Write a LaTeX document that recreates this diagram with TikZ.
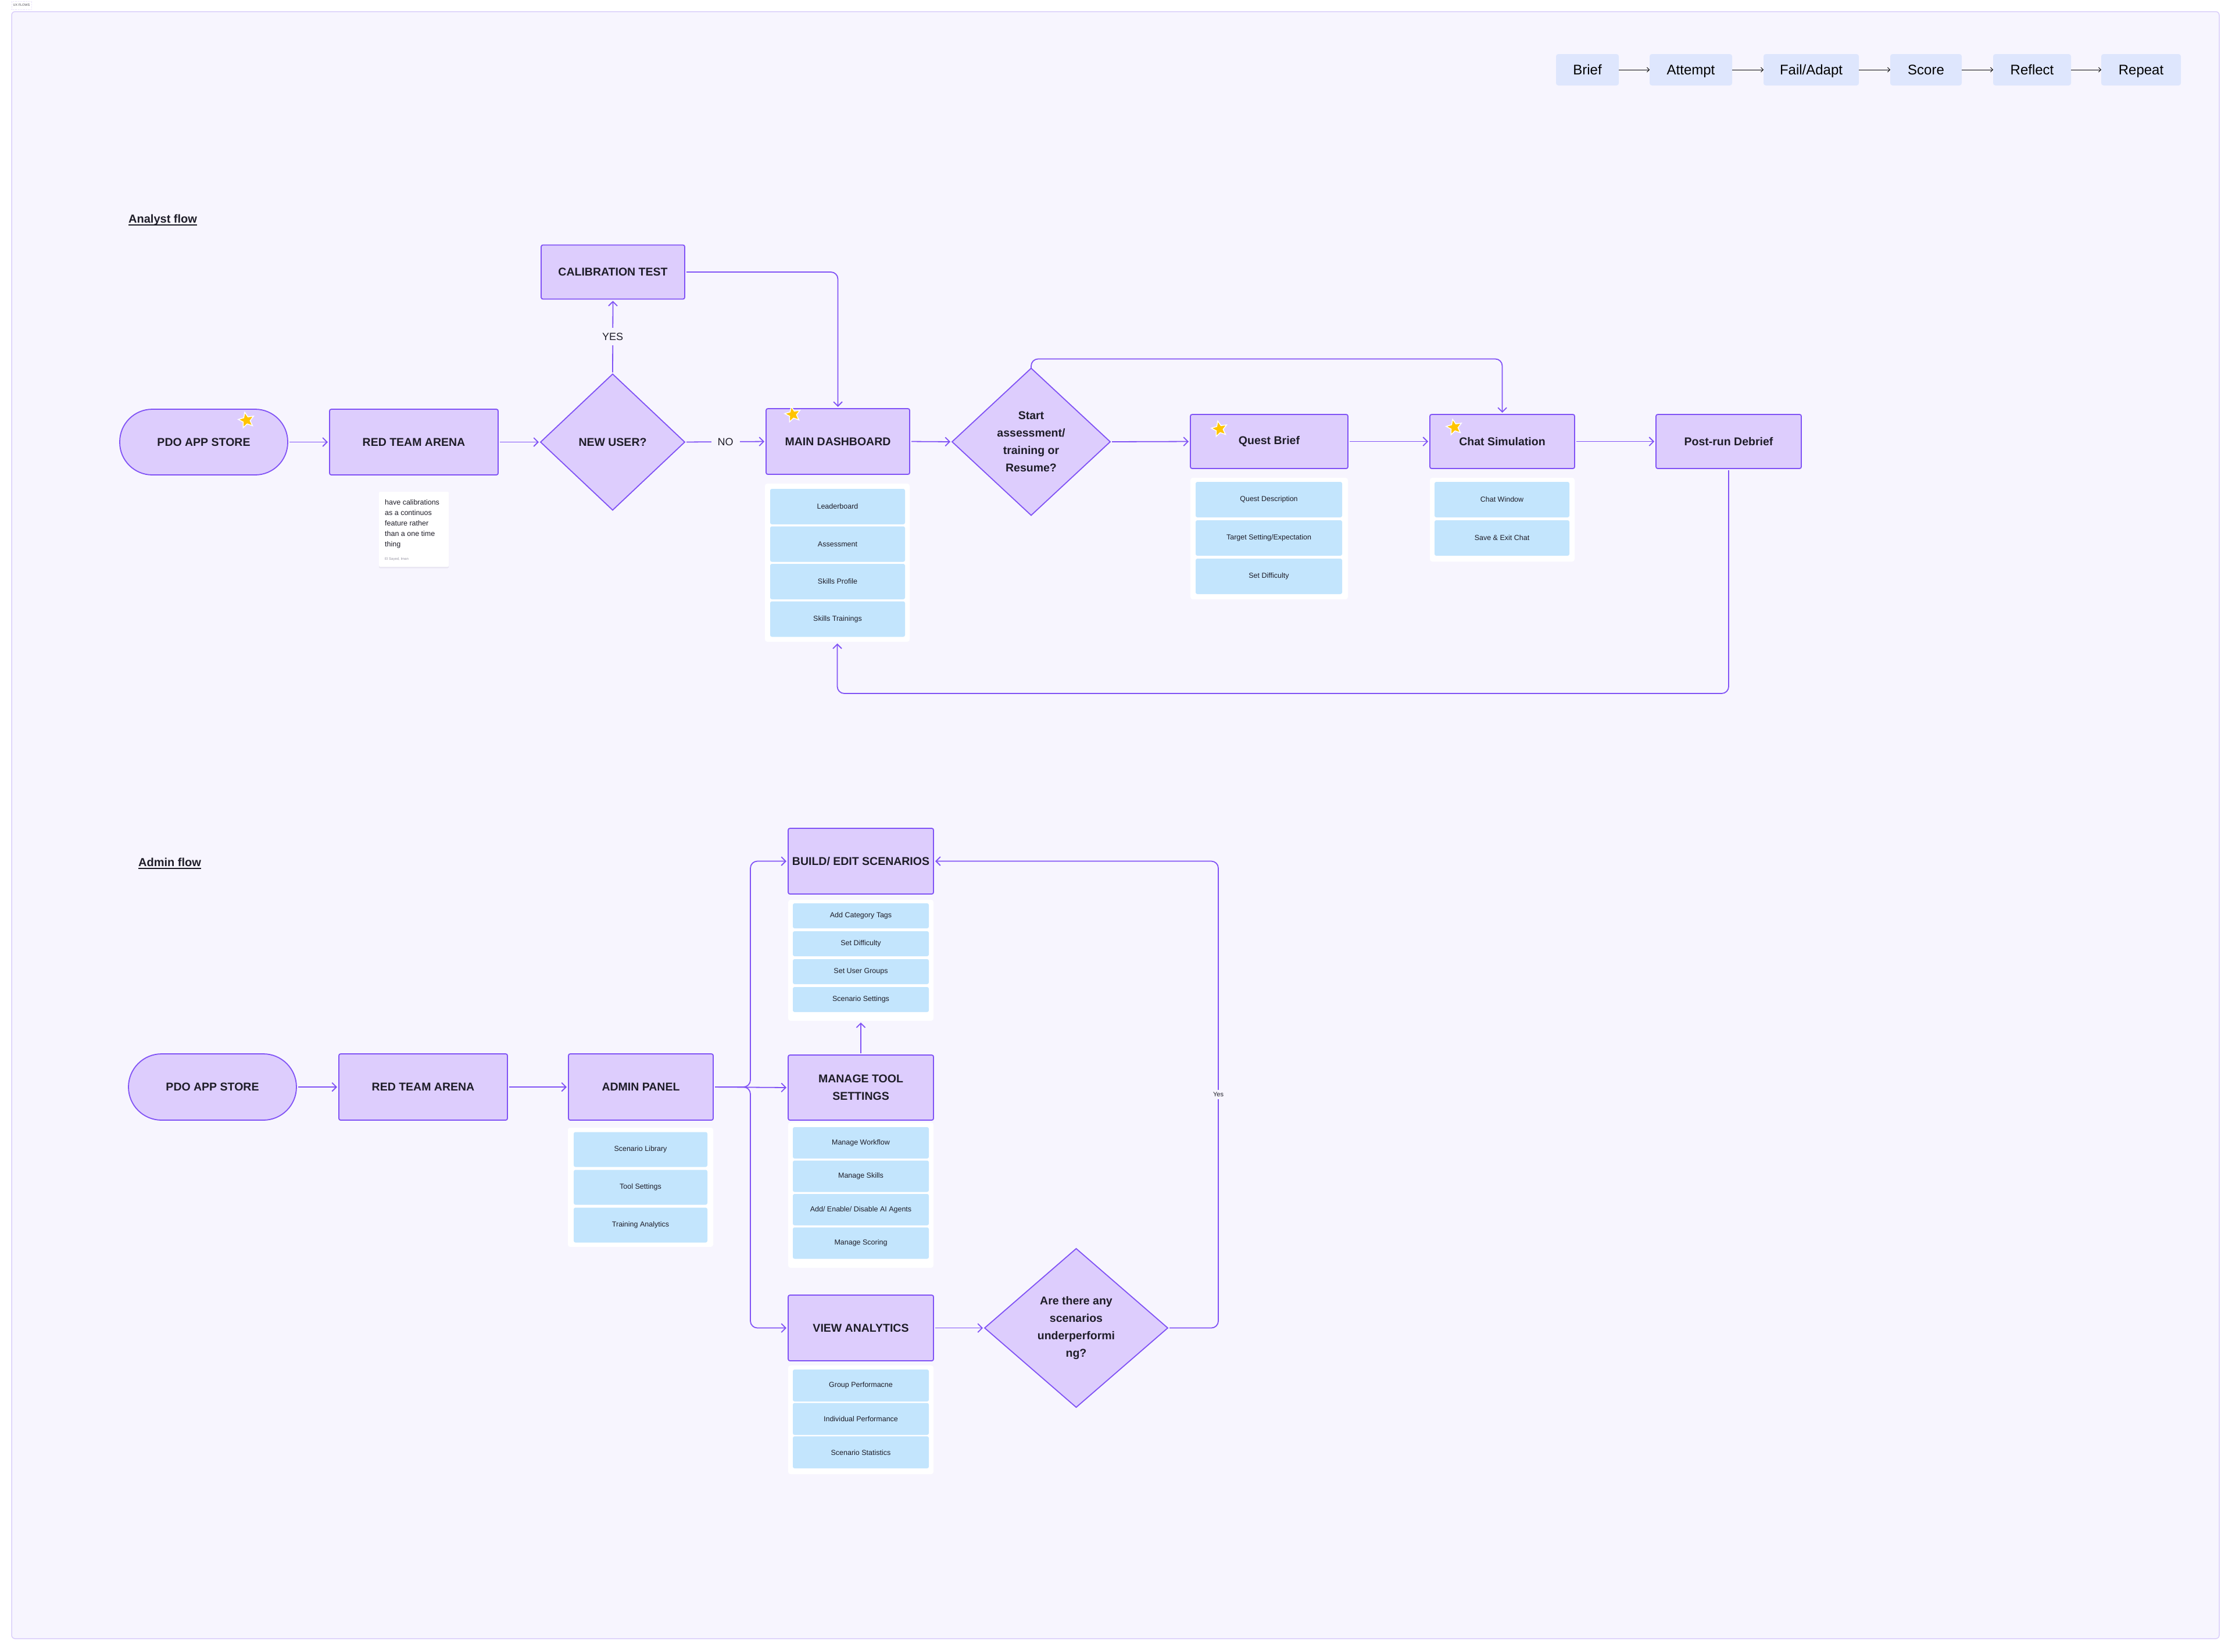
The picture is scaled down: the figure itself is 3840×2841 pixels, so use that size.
\documentclass[tikz,border=0pt]{standalone}
\usepackage{fontspec}
\setmainfont{Liberation Sans}
\usetikzlibrary{shapes.geometric,arrows.meta,calc}
\definecolor{bgc}{RGB}{247,245,254}
\definecolor{lav}{RGB}{221,205,253}
\definecolor{vio}{RGB}{128,82,245}
\definecolor{itemblue}{RGB}{195,229,253}
\definecolor{legbox}{RGB}{222,230,253}
\definecolor{ink}{RGB}{30,29,40}
\definecolor{framec}{RGB}{218,206,250}
\definecolor{starY}{RGB}{255,196,0}
\definecolor{shadowc}{RGB}{233,230,242}
\definecolor{authorc}{RGB}{150,148,162}
\tikzset{
  procbox/.style={draw=vio, fill=lav, line width=1.8pt, rounded corners=3pt, inner sep=0pt, outer sep=0pt, text=ink, font=\bfseries\fontsize{19.5}{30}\selectfont, align=center},
  termbox/.style={procbox, rounded corners=56pt},
  decbox/.style={diamond, draw=vio, fill=lav, line width=1.8pt, inner sep=0pt, outer sep=0pt, text=ink, font=\bfseries\fontsize{19.5}{30}\selectfont, align=center},
  subpanel/.style={fill=white, rounded corners=4pt, inner sep=0pt, outer sep=0pt},
  subitem/.style={fill=itemblue, rounded corners=3pt, inner sep=0pt, outer sep=0pt, text=ink, font=\fontsize{12.5}{14}\selectfont},
  legnode/.style={fill=legbox, rounded corners=4pt, inner sep=0pt, outer sep=0pt, text=black, font=\fontsize{24}{28}\selectfont, minimum height=54pt, text height=17pt, text depth=0pt},
  flowline/.style={draw=vio, line width=1.8pt, -{Straight Barb[length=7.5pt,width=15pt]}, shorten <=3pt, shorten >=3pt, rounded corners=12pt},
  legline/.style={draw=black, line width=0.9pt, -{Straight Barb[length=4pt,width=8pt]}},
  edgelbl/.style={fill=bgc, text=ink, font=\fontsize{18}{20}\selectfont, inner sep=9pt},
  starmark/.style={star, star points=5, star point ratio=2.2, fill=starY, draw=white, line width=1.5pt, minimum size=28pt, inner sep=0pt, rotate=12},
  flowtitle/.style={text=ink, font=\bfseries\fontsize{20}{24}\selectfont, inner sep=0pt},
}
\begin{document}
\begin{tikzpicture}[x=1pt,y=-1pt]
\path[use as bounding box] (0,0) rectangle (3840,2841);
\fill[white] (0,0) rectangle (3840,2841);
\draw[framec, fill=bgc, line width=1.5pt, rounded corners=6pt] (20,20) rectangle (3818,2819);
\node[draw=framec, dotted, line width=0.8pt, fill=white, inner sep=0pt, minimum width=34pt, minimum height=14pt, text=ink!80, font=\fontsize{5.5}{6}\selectfont] (uxlabel) at (37,9) {UX FLOWS};

% ---------- legend ----------
\node[legnode, minimum width=108pt] (lgBrief) at (2731,120) {Brief};
\node[legnode, minimum width=142pt] (lgAttempt) at (2909,120) {Attempt};
\node[legnode, minimum width=164pt] (lgFail) at (3116,120) {Fail/Adapt};
\node[legnode, minimum width=123pt] (lgScore) at (3313.5,120) {Score};
\node[legnode, minimum width=134pt] (lgReflect) at (3496,120) {Reflect};
\node[legnode, minimum width=137pt] (lgRepeat) at (3683.5,120) {Repeat};
\draw[legline] (lgBrief.east) -- (lgAttempt.west);
\draw[legline] (lgAttempt.east) -- (lgFail.west);
\draw[legline] (lgFail.east) -- (lgScore.west);
\draw[legline] (lgScore.east) -- (lgReflect.west);
\draw[legline] (lgReflect.east) -- (lgRepeat.west);

% ---------- Analyst flow ----------
\node[flowtitle, anchor=base west] (titleA) at (221,383) {Analyst flow};
\draw[ink, line width=1.6pt] ([yshift=-4pt]titleA.base west) -- ([yshift=-4pt]titleA.base east);

\node[termbox, minimum width=289pt, minimum height=113pt] (pdoA) at (350.5,760.5) {PDO APP STORE};
\node[procbox, minimum width=290pt, minimum height=113pt] (rtaA) at (712,760.5) {RED TEAM ARENA};
\node[decbox, minimum width=248pt, minimum height=234pt] (newuser) at (1054,760.5) {NEW USER?};
\node[procbox, minimum width=247pt, minimum height=93pt] (calib) at (1054.5,468) {CALIBRATION TEST};
\node[procbox, minimum width=247pt, minimum height=113pt] (md) at (1441.5,759.5) {MAIN DASHBOARD};
\node[decbox, minimum width=272pt, minimum height=253pt] (startq) at (1774,760) {Start\\assessment/\\training or\\Resume?};
\node[procbox, minimum width=271pt, minimum height=93pt] (qb) at (2183.5,759.5) {Quest Brief};
\node[procbox, minimum width=249pt, minimum height=93pt] (chat) at (2584.5,759.5) {Chat Simulation};
\node[procbox, minimum width=250pt, minimum height=93pt] (debrief) at (2974,759.5) {Post-run Debrief};

% sub panels
\node[subpanel, minimum width=249pt, minimum height=272pt] (mdPanel) at (1440.5,968) {};
\node[subitem, minimum width=232pt, minimum height=61pt] (mdI1) at (1441,871.5) {Leaderboard};
\node[subitem, minimum width=232pt, minimum height=61pt] (mdI2) at (1441,936) {Assessment};
\node[subitem, minimum width=232pt, minimum height=61pt] (mdI3) at (1441,1000.5) {Skills Profile};
\node[subitem, minimum width=232pt, minimum height=61pt] (mdI4) at (1441,1065) {Skills Trainings};

\node[subpanel, minimum width=271pt, minimum height=209pt] (qbPanel) at (2183.5,926.5) {};
\node[subitem, minimum width=252pt, minimum height=61pt] (qbI1) at (2183,859.5) {Quest Description};
\node[subitem, minimum width=252pt, minimum height=61pt] (qbI2) at (2183,925.5) {Target Setting/Expectation};
\node[subitem, minimum width=252pt, minimum height=61pt] (qbI3) at (2183,991.5) {Set Difficulty};

\node[subpanel, minimum width=249pt, minimum height=144pt] (chatPanel) at (2584.5,894) {};
\node[subitem, minimum width=232pt, minimum height=61pt] (chI1) at (2584,859.5) {Chat Window};
\node[subitem, minimum width=232pt, minimum height=61pt] (chI2) at (2584,925.5) {Save \& Exit Chat};

% sticky note
\node[fill=shadowc, rounded corners=2pt, minimum width=120pt, minimum height=129pt, inner sep=0pt] (noteShadow) at (712,913) {};
\node[fill=white, rounded corners=2pt, minimum width=120pt, minimum height=129pt, inner sep=0pt] (note) at (712,910.5) {};
\node[anchor=north west, align=left, text=ink, inner sep=0pt, font=\fontsize{12.5}{18}\selectfont] (noteText) at (662,859) {have calibrations\\as a continuos\\feature rather\\than a one time\\thing};
\node[anchor=base west, inner sep=0pt, text=authorc, font=\fontsize{6}{7}\selectfont] (noteAuthor) at (662,963) {El Sayed, Iman};

% stars
\node[starmark] (starA) at (424,723) {};
\node[starmark] (starMD) at (1364,713) {};
\node[starmark] (starQB) at (2098,738) {};
\node[starmark] (starCH) at (2502,735) {};

% connectors analyst
\draw[flowline] (pdoA.east) -- (rtaA.west);
\draw[flowline] (rtaA.east) -- (newuser.west);
\draw[flowline] (newuser.north) -- (calib.south);
\draw[flowline] (newuser.east) -- (md.west);
\draw[flowline] (calib.east) -| (md.north);
\draw[flowline] (md.east) -- (startq.west);
\draw[flowline] (startq.east) -- (qb.west);
\draw[flowline, shorten <=0pt] (startq.north) -- ++(0,-16) -| (chat.north);
\draw[flowline] (qb.east) -- (chat.west);
\draw[flowline] (chat.east) -- (debrief.west);
\coordinate (dbturn) at (2974,1193);
\draw[flowline] (debrief.south) -- (dbturn) -| (mdPanel.south);
\node[edgelbl] (yesL) at (1054,579) {YES};
\node[edgelbl, inner xsep=11pt] (noL) at (1248,760) {NO};

% ---------- Admin flow ----------
\node[flowtitle, anchor=base west] (titleB) at (238,1490) {Admin flow};
\draw[ink, line width=1.6pt] ([yshift=-4pt]titleB.base west) -- ([yshift=-4pt]titleB.base east);

\node[termbox, rounded corners=57pt, minimum width=289pt, minimum height=114pt] (pdoB) at (365.5,1870) {PDO APP STORE};
\node[procbox, minimum width=290pt, minimum height=114pt] (rtaB) at (728,1870) {RED TEAM ARENA};
\node[procbox, minimum width=249pt, minimum height=114pt] (admin) at (1102.5,1870) {ADMIN PANEL};

\node[subpanel, minimum width=250pt, minimum height=205pt] (adminPanel) at (1102,2042.5) {};
\node[subitem, minimum width=230pt, minimum height=60pt] (adI1) at (1102,1977.5) {Scenario Library};
\node[subitem, minimum width=230pt, minimum height=60pt] (adI2) at (1102,2042.5) {Tool Settings};
\node[subitem, minimum width=230pt, minimum height=60pt] (adI3) at (1102,2107.5) {Training Analytics};

\node[procbox, minimum width=250pt, minimum height=113pt] (bes) at (1481,1481.5) {BUILD/ EDIT SCENARIOS};
\node[subpanel, minimum width=250pt, minimum height=208pt] (besPanel) at (1481,1652) {};
\node[subitem, minimum width=234pt, minimum height=43pt] (bsI1) at (1481,1575.5) {Add Category Tags};
\node[subitem, minimum width=234pt, minimum height=43pt] (bsI2) at (1481,1623.5) {Set Difficulty};
\node[subitem, minimum width=234pt, minimum height=43pt] (bsI3) at (1481,1671.5) {Set User Groups};
\node[subitem, minimum width=234pt, minimum height=43pt] (bsI4) at (1481,1719.5) {Scenario Settings};

\node[procbox, minimum width=250pt, minimum height=112pt] (mts) at (1481,1871) {MANAGE TOOL\\SETTINGS};
\node[subpanel, minimum width=250pt, minimum height=250pt] (mtsPanel) at (1481,2056) {};
\node[subitem, minimum width=234pt, minimum height=54pt] (mtI1) at (1481,1966) {Manage Workflow};
\node[subitem, minimum width=234pt, minimum height=54pt] (mtI2) at (1481,2023.5) {Manage Skills};
\node[subitem, minimum width=234pt, minimum height=54pt] (mtI3) at (1481,2081) {Add/ Enable/ Disable AI Agents};
\node[subitem, minimum width=234pt, minimum height=54pt] (mtI4) at (1481,2138.5) {Manage Scoring};

\node[procbox, minimum width=250pt, minimum height=113pt] (va) at (1481,2284.5) {VIEW ANALYTICS};
\node[subpanel, minimum width=250pt, minimum height=187pt] (vaPanel) at (1481,2442.5) {};
\node[subitem, minimum width=234pt, minimum height=55pt] (vaI1) at (1481,2383.5) {Group Performacne};
\node[subitem, minimum width=234pt, minimum height=55pt] (vaI2) at (1481,2441) {Individual Performance};
\node[subitem, minimum width=234pt, minimum height=55pt] (vaI3) at (1481,2498.5) {Scenario Statistics};

\node[decbox, minimum width=315pt, minimum height=273pt] (under) at (1851.5,2284.5) {Are there any\\scenarios\\underperformi\\ng?};

% connectors admin
\draw[flowline] (pdoB.east) -- (rtaB.west);
\draw[flowline] (rtaB.east) -- (admin.west);
\coordinate (jn) at (1291,1870);
\draw[flowline] (admin.east) -- (jn) |- (bes.west);
\draw[flowline] (admin.east) -- (mts.west);
\draw[flowline] (admin.east) -- (jn) |- (va.west);
\draw[flowline] (mts.north) -- (besPanel.south);
\draw[flowline] (va.east) -- (under.west);
\coordinate (yturn) at (2096,2284.5);
\draw[flowline] (under.east) -- (yturn) |- (bes.east);
\node[edgelbl, font=\fontsize{11}{13}\selectfont, inner sep=4pt] (yesB) at (2096,1883) {Yes};
\end{tikzpicture}
\end{document}
